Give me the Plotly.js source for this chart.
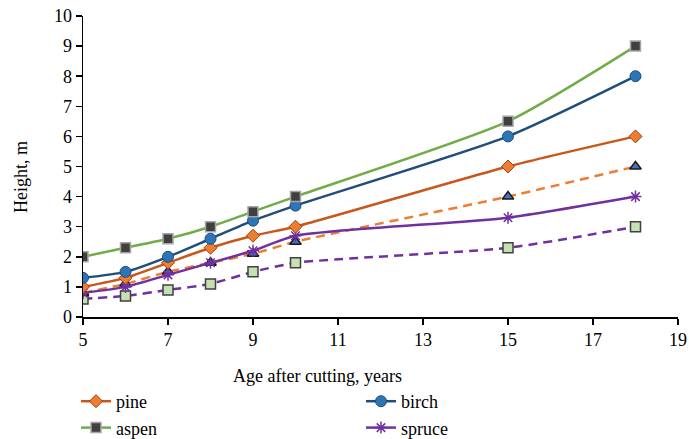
<!DOCTYPE html>
<html>
<head>
<meta charset="utf-8">
<script src="https://cdn.plot.ly/plotly-3.0.1.min.js"></script>
<style>html,body{margin:0;padding:0;background:#fff;}#chart{width:689px;height:439px;}</style>
</head>
<body>
<div id="chart"></div>
<script>
var ages = [5, 6, 7, 8, 9, 10, 15, 18];
var pine = [1.0, 1.3, 1.8, 2.3, 2.7, 3.0, 5.0, 6.0];
var birch = [1.3, 1.5, 2.0, 2.6, 3.2, 3.7, 6.0, 8.0];
var aspen = [2.0, 2.3, 2.6, 3.0, 3.5, 4.0, 6.5, 9.0];
var spruce = [0.8, 1.0, 1.4, 1.8, 2.2, 2.7, 3.3, 4.0];
var dashedOrange = [0.8, 1.1, 1.5, 1.8, 2.1, 2.5, 4.0, 5.0];
var dashedPurple = [0.6, 0.7, 0.9, 1.1, 1.5, 1.8, 2.3, 3.0];
var xTicks = [5, 7, 9, 11, 13, 15, 17, 19];
var yTicks = [0, 1, 2, 3, 4, 5, 6, 7, 8, 9, 10];

var FONT = "Liberation Serif, Times New Roman, serif";

var traces = [
  {x: ages, y: dashedPurple, name: 'series 6', mode: 'lines+markers', showlegend: false,
   line: {color: '#7030A0', width: 2.5, dash: '9px,6px', shape: 'spline', smoothing: 0.6},
   marker: {symbol: 'square', size: 10, color: '#C5E0B4', line: {color: '#404040', width: 1.5}}},
  {x: ages, y: dashedOrange, name: 'series 5', mode: 'lines+markers', showlegend: false,
   line: {color: '#ED7D31', width: 2.5, dash: '9px,6px', shape: 'spline', smoothing: 0.6},
   marker: {symbol: 'triangle-up', size: 10, color: '#4472C4', line: {color: '#1a1a1a', width: 1.5}}},
  {x: ages, y: spruce, name: 'spruce', mode: 'lines+markers', legendrank: 4,
   line: {color: '#7030A0', width: 2.5, shape: 'spline', smoothing: 0.6},
   marker: {symbol: 'asterisk-open', size: 10, color: '#7030A0', line: {color: '#7030A0', width: 1.5}}},
  {x: ages, y: pine, name: 'pine', mode: 'lines+markers', legendrank: 1,
   line: {color: '#C9561C', width: 2.5, shape: 'spline', smoothing: 0.6},
   marker: {symbol: 'diamond', size: 10, color: '#ED7D31', line: {color: '#A0400C', width: 1}}},
  {x: ages, y: birch, name: 'birch', mode: 'lines+markers', legendrank: 2,
   line: {color: '#1F4E79', width: 2.5, shape: 'spline', smoothing: 0.6},
   marker: {symbol: 'circle', size: 11, color: '#2E75B6', line: {color: '#1F4E79', width: 1}}},
  {x: ages, y: aspen, name: 'aspen', mode: 'lines+markers', legendrank: 3,
   line: {color: '#70AD47', width: 2.5, shape: 'spline', smoothing: 0.6},
   marker: {symbol: 'square', size: 10, color: '#404040', line: {color: '#A6A6A6', width: 1.5}}}
];

var layout = {
  width: 689, height: 439,
  margin: {l: 83, r: 11, t: 16, b: 122},
  paper_bgcolor: '#ffffff', plot_bgcolor: '#ffffff',
  font: {family: FONT, size: 17, color: '#000'},
  xaxis: {
    range: [5, 19], tickvals: xTicks, ticktext: xTicks.map(String),
    showgrid: false, zeroline: false, showline: true, linecolor: '#000', linewidth: 1.5,
    ticks: 'outside', ticklen: 6, tickwidth: 1.5, tickcolor: '#000',
    tickfont: {family: FONT, size: 18, color: '#000'}
  },
  yaxis: {
    range: [0, 10], tickvals: yTicks, ticktext: yTicks.map(String),
    showgrid: false, zeroline: false, showline: true, linecolor: '#000', linewidth: 1.5,
    ticks: 'outside', ticklen: 6, tickwidth: 1.5, tickcolor: '#000',
    tickfont: {family: FONT, size: 18, color: '#000'}
  },
  annotations: [
    {text: 'Age after cutting, years', xref: 'paper', yref: 'paper',
     x: (317 - 83) / 595, y: -0.195, xanchor: 'center', yanchor: 'middle', showarrow: false,
     font: {family: FONT, size: 18, color: '#000'}},
    {text: 'Height, m', xref: 'paper', yref: 'paper', textangle: -90,
     x: (21 - 83) / 595, y: (317 - 177) / 301, xanchor: 'center', yanchor: 'middle', showarrow: false,
     font: {family: FONT, size: 18, color: '#000'}}
  ],
  showlegend: true,
  legend: {
    orientation: 'h', xref: 'container', yref: 'container',
    x: 76 / 689, y: 1 - 383 / 439, xanchor: 'left', yanchor: 'top',
    entrywidth: 240, entrywidthmode: 'pixels', traceorder: 'normal',
    tracegroupgap: 0, itemwidth: 30,
    font: {family: FONT, size: 18, color: '#000'}, bgcolor: 'rgba(0,0,0,0)'
  }
};

Plotly.newPlot('chart', traces, layout, {displayModeBar: false, staticPlot: true});
</script>
</body>
</html>
